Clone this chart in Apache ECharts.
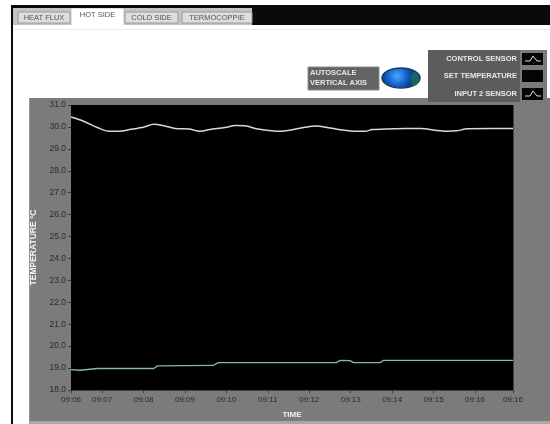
<!DOCTYPE html>
<html>
<head>
<meta charset="utf-8">
<script src="https://cdn.jsdelivr.net/npm/echarts@6/dist/echarts.min.js"></script>
<style>
  html, body { margin: 0; padding: 0; background: #ffffff; }
  #chart { width: 550px; height: 424px; }
</style>
</head>
<body>
<div id="chart"></div>
<script>
// Front-panel tabs and legend entries
const tabNames = ['HEAT FLUX', 'HOT SIDE', 'COLD SIDE', 'TERMOCOPPIE'];
const legendNames = ['CONTROL SENSOR', 'SET TEMPERATURE', 'INPUT 2 SENSOR'];

// Time axis: start, whole minutes, end
const xTickTimes = ['09:06:15', '09:07:00', '09:08:00', '09:09:00', '09:10:00', '09:11:00',
  '09:12:00', '09:13:00', '09:14:00', '09:15:00', '09:16:00', '09:16:55'];

// Temperature axis (°C)
const yMin = 18;
const yMax = 31;
const yStep = 1;

// CONTROL SENSOR readings
const controlTimes = ['09:06:15', '09:06:34', '09:06:54', '09:07:10', '09:07:25', '09:07:40',
  '09:08:01', '09:08:15', '09:08:31', '09:08:46', '09:09:06', '09:09:22', '09:09:36',
  '09:09:58', '09:10:13', '09:10:29', '09:10:43', '09:10:59', '09:11:13', '09:11:29',
  '09:11:50', '09:12:10', '09:12:30', '09:12:51', '09:13:05', '09:13:21', '09:13:31',
  '09:13:51', '09:14:18', '09:14:42', '09:15:02', '09:15:18', '09:15:33', '09:15:49',
  '09:16:24', '09:16:55'];
const controlValues = [30.45, 30.25, 29.96, 29.80, 29.80, 29.88,
  30.00, 30.12, 30.04, 29.93, 29.90, 29.80, 29.88,
  29.97, 30.06, 30.04, 29.92, 29.85, 29.80, 29.84,
  29.96, 30.04, 29.95, 29.85, 29.80, 29.80, 29.88,
  29.90, 29.93, 29.93, 29.85, 29.80, 29.82, 29.92,
  29.93, 29.93];

// SET TEMPERATURE (no samples logged)
const setTimes = [];
const setValues = [];

// INPUT 2 SENSOR readings
const input2Times = ['09:06:15', '09:06:28', '09:06:54', '09:08:15', '09:08:20', '09:09:41',
  '09:09:48', '09:12:39', '09:12:45', '09:12:59', '09:13:04', '09:13:43', '09:13:47', '09:16:55'];
const input2Values = [18.93, 18.90, 18.98, 18.98, 19.10, 19.12,
  19.25, 19.25, 19.35, 19.34, 19.25, 19.25, 19.35, 19.35];

function toSec(t) {
  const p = t.split(':').map(Number);
  return p[0] * 3600 + p[1] * 60 + p[2];
}
function toHM(s) {
  const h = Math.floor(s / 3600), m = Math.floor((s % 3600) / 60);
  return String(h).padStart(2, '0') + ':' + String(m).padStart(2, '0');
}
function pairs(times, values) {
  return times.map((t, i) => [toSec(t), values[i]]);
}

const xTicks = xTickTimes.map(toSec);
const FONT = 'Liberation Sans';

// Panel decorations: tab strip, graph frame, autoscale control and plot legend
const graphic = [];
graphic.push({ type: 'rect', shape: { x: 0, y: 0, width: 550, height: 424 }, style: { fill: '#ffffff' }, z: -20, silent: true });
graphic.push({ type: 'rect', shape: { x: 11, y: 5, width: 539, height: 3 }, style: { fill: '#0a0a0a' }, z: -5 });
graphic.push({ type: 'rect', shape: { x: 252, y: 5, width: 298, height: 20 }, style: { fill: '#0a0a0a' }, z: -5 });
graphic.push({ type: 'rect', shape: { x: 13, y: 8, width: 239, height: 17 }, style: { fill: '#c4c4c4' }, z: -5 });
graphic.push({ type: 'rect', shape: { x: 11, y: 5, width: 2, height: 419 }, style: { fill: '#0a0a0a' }, z: -5 });
graphic.push({ type: 'rect', shape: { x: 13, y: 29, width: 537, height: 1 }, style: { fill: '#ececec' }, z: -5 });

const tabBoxes = [[18, 52], [72, 51], [125, 53], [182, 70]];
tabNames.forEach((name, i) => {
  const [x, w] = tabBoxes[i];
  const sel = i === 1;
  graphic.push({
    type: 'rect',
    shape: { x: x, y: sel ? 9 : 12, width: w, height: sel ? 16 : 11 },
    style: { fill: sel ? '#ffffff' : '#dedede', stroke: sel ? '#ffffff' : '#9a9a9a', lineWidth: 1 },
    z: -4
  });
  graphic.push({
    type: 'text', x: x + w / 2, y: sel ? 15 : 17.5,
    style: { text: name, fill: '#555555', font: '7.5px ' + FONT, align: 'center', verticalAlign: 'middle' },
    z: -3
  });
});

// graph frame
graphic.push({ type: 'rect', shape: { x: 29, y: 98, width: 521, height: 326 }, style: { fill: '#7b7b7b' }, z: -10 });
graphic.push({ type: 'rect', shape: { x: 29, y: 98, width: 1, height: 326 }, style: { fill: '#959595' }, z: -9 });
graphic.push({ type: 'rect', shape: { x: 29, y: 421, width: 521, height: 3 }, style: { fill: '#a8a8a8' }, z: -9 });

// autoscale switch
graphic.push({ type: 'rect', shape: { x: 308, y: 67, width: 71, height: 23 }, style: { fill: '#636363', stroke: '#8a8a8a', lineWidth: 1 }, z: 5 });
graphic.push({ type: 'text', x: 310, y: 73, style: { text: 'AUTOSCALE', fill: '#e6e6e6', font: 'bold 7.5px ' + FONT, verticalAlign: 'middle' }, z: 6 });
graphic.push({ type: 'text', x: 310, y: 83, style: { text: 'VERTICAL AXIS', fill: '#e6e6e6', font: 'bold 7.5px ' + FONT, verticalAlign: 'middle' }, z: 6 });
graphic.push({
  type: 'ellipse', shape: { cx: 401, cy: 78, rx: 19, ry: 10 },
  style: {
    fill: {
      type: 'radial', x: 0.4, y: 0.4, r: 0.7,
      colorStops: [{ offset: 0, color: '#4aa8ff' }, { offset: 0.6, color: '#1565d0' }, { offset: 1, color: '#0b3f86' }]
    },
    stroke: '#1b3a5e', lineWidth: 1.5
  },
  z: 6
});
graphic.push({ type: 'ellipse', shape: { cx: 415, cy: 79, rx: 4, ry: 7 }, style: { fill: 'rgba(40,130,80,0.55)' }, z: 7 });

// plot legend
graphic.push({ type: 'rect', shape: { x: 428, y: 50, width: 92, height: 52 }, style: { fill: '#5c5c5c' }, z: 20 });
graphic.push({ type: 'rect', shape: { x: 520, y: 50, width: 27, height: 52 }, style: { fill: '#7b7b7b' }, z: 20 });
const legendRows = [59, 76, 94];
const legendGlyph = [true, false, true];
legendNames.forEach((name, i) => {
  const cy = legendRows[i];
  graphic.push({
    type: 'text', x: 517, y: cy,
    style: { text: name, fill: '#e8e8e8', font: 'bold 7.5px ' + FONT, align: 'right', verticalAlign: 'middle' },
    z: 21
  });
  graphic.push({ type: 'rect', shape: { x: 522, y: cy - 6, width: 21, height: 12 }, style: { fill: '#050505' }, z: 21 });
  if (legendGlyph[i]) {
    graphic.push({
      type: 'polyline',
      shape: { points: [[525, cy + 2], [530, cy + 2], [533, cy - 3], [537, cy + 2], [541, cy + 2]] },
      style: { stroke: '#dcdcdc', lineWidth: 1, fill: null },
      z: 22
    });
  }
});

const chart = echarts.init(document.getElementById('chart'), null, { renderer: 'canvas' });
chart.setOption({
  animation: false,
  backgroundColor: 'transparent',
  graphic: graphic,
  grid: {
    left: 71, right: 37, top: 105, bottom: 30,
    show: true, backgroundColor: '#000000', borderWidth: 0, z: 2
  },
  xAxis: {
    type: 'value',
    min: xTicks[0],
    max: xTicks[xTicks.length - 1],
    name: 'TIME',
    nameLocation: 'middle',
    nameGap: 21,
    nameTextStyle: { color: '#f2f2f2', fontSize: 8, fontWeight: 'bold', fontFamily: FONT },
    axisLine: { show: false },
    axisTick: { show: true, customValues: xTicks, length: 3, inside: false, lineStyle: { color: '#3a3a3a' } },
    axisLabel: {
      customValues: xTicks,
      formatter: v => toHM(v),
      color: '#2a2a2a', fontSize: 8, fontFamily: FONT, margin: 6
    },
    splitLine: { show: true, lineStyle: { color: '#444444', width: 1 } }
  },
  yAxis: {
    type: 'value',
    min: yMin, max: yMax, interval: yStep,
    name: 'TEMPERATURE °C',
    nameLocation: 'middle',
    nameGap: 31,
    nameRotate: 90,
    nameTextStyle: { color: '#f2f2f2', fontSize: 8.5, fontWeight: 'bold', fontFamily: FONT },
    axisLine: { show: false },
    axisTick: { show: true, length: 3, lineStyle: { color: '#3a3a3a' } },
    axisLabel: {
      formatter: v => v.toFixed(1),
      color: '#2a2a2a', fontSize: 8.5, fontFamily: FONT, margin: 5
    },
    splitLine: { show: true, lineStyle: { color: '#444444', width: 1 } }
  },
  series: [
    {
      name: legendNames[0], type: 'line', data: pairs(controlTimes, controlValues),
      showSymbol: false, smooth: 0.3, z: 5,
      lineStyle: { color: '#d9d9d9', width: 1.5 }
    },
    {
      name: legendNames[1], type: 'line', data: pairs(setTimes, setValues),
      showSymbol: false, z: 5,
      lineStyle: { color: '#e0e0e0', width: 1 }
    },
    {
      name: legendNames[2], type: 'line', data: pairs(input2Times, input2Values),
      showSymbol: false, z: 5,
      lineStyle: { color: '#86b9a0', width: 1.3 }
    }
  ]
});
</script>
</body>
</html>
